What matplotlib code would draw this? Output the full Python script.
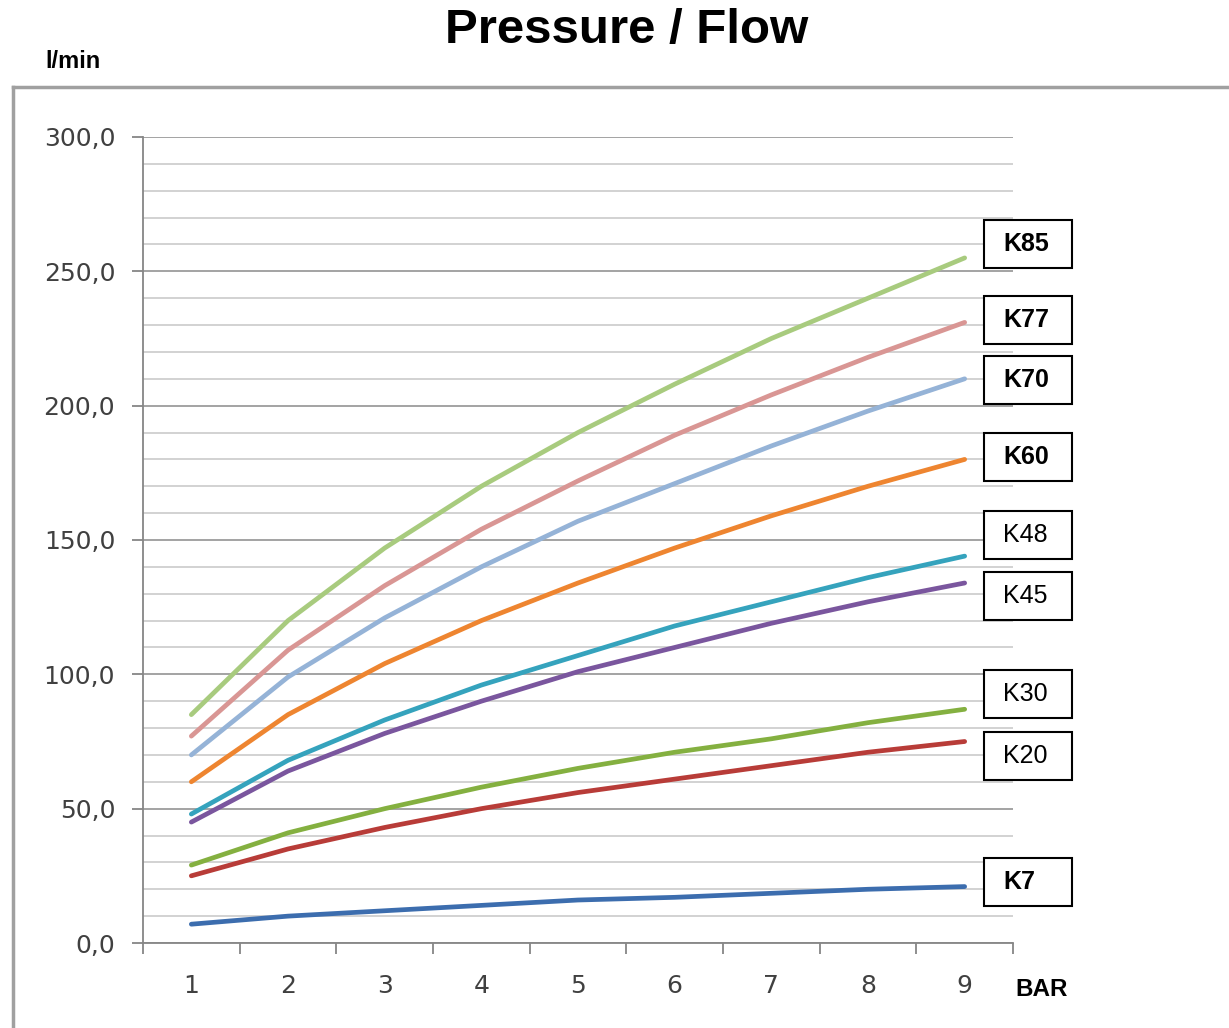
import matplotlib
matplotlib.use("Agg")
from matplotlib import pyplot as plt
from matplotlib.patches import Rectangle
from matplotlib.lines import Line2D

# Pressure in bar
pressure = [1, 2, 3, 4, 5, 6, 7, 8, 9]

# Flow in l/min for each nozzle
k85 = [85, 120, 147, 170, 190, 208, 225, 240, 255]
k77 = [77, 109, 133, 154, 172, 189, 204, 218, 231]
k70 = [70, 99, 121, 140, 157, 171, 185, 198, 210]
k60 = [60, 85, 104, 120, 134, 147, 159, 170, 180]
k48 = [48, 68, 83, 96, 107, 118, 127, 136, 144]
k45 = [45, 64, 78, 90, 101, 110, 119, 127, 134]
k30 = [29, 41, 50, 58, 65, 71, 76, 82, 87]
k20 = [25, 35, 43, 50, 56, 61, 66, 71, 75]
k7 = [7, 10, 12, 14, 16, 17, 18.5, 20, 21]

names = ['K85', 'K77', 'K70', 'K60', 'K48', 'K45', 'K30', 'K20', 'K7']
series = [k85, k77, k70, k60, k48, k45, k30, k20, k7]
colors = ['#A8CB7E', '#D99694', '#95B3D7', '#EE8530', '#35A3BD',
          '#7A569E', '#84B040', '#B83C38', '#3C6DAE']
bold = [True, True, True, True, False, False, False, False, True]
# label box centres (l/min)
label_y = [260, 232, 209.5, 181, 152, 129, 92.7, 69.6, 22.7]

fig = plt.figure(figsize=(12.29, 10.28), dpi=100)
ax = fig.add_axes([143/1229, 1-943/1028, 870/1229, 806/1028])

for ys, c in zip(series, colors):
    ax.plot(pressure, ys, c=c, lw=3.4, solid_capstyle='round', zorder=3)

ax.set_xlim(0.5, 9.5)
ax.set_ylim(0, 300)

# grid
for v in range(0, 301, 10):
    if v % 50 == 0:
        ax.axhline(v, color='#9C9C9C', lw=1.3, zorder=1)
    else:
        ax.axhline(v, color='#CFCFCF', lw=1.3, zorder=1)

ax.set_yticks(range(0, 301, 50))
ax.set_yticklabels(['%d,0' % v for v in range(0, 301, 50)])
ax.set_xticks([x + 0.5 for x in range(0, 10)])
ax.set_xticklabels([])
for x in pressure:
    ax.text(x, -0.053, str(x), transform=ax.get_xaxis_transform(),
            ha='center', va='center', fontsize=18, color='#404040')

for s in ['top', 'right']:
    ax.spines[s].set_visible(False)
for s in ['left', 'bottom']:
    ax.spines[s].set_color('#868686')
    ax.spines[s].set_linewidth(1.3)
ax.tick_params(axis='both', direction='out', length=8, width=1.3,
               color='#868686', labelcolor='#404040', labelsize=18)
ax.tick_params(axis='y', pad=12)

# series labels in boxes
box_h = 48 / 806 * 300
for name, yc, b in zip(names, label_y, bold):
    ax.add_patch(Rectangle(((984-143)/870, yc - box_h/2), 88/870, box_h,
                           transform=ax.get_yaxis_transform(), facecolor='white',
                           edgecolor='black', lw=1.5, clip_on=False, zorder=4))
    ax.text((1003-143)/870, yc, name, transform=ax.get_yaxis_transform(),
            ha='left', va='center', fontsize=18, family='Liberation Sans',
            fontweight='bold' if b else 'normal', zorder=5)

# chart frame
fig.add_artist(Line2D([13/1229, 1], [1-87/1028, 1-87/1028], color='#A0A0A0', lw=2.5))
fig.add_artist(Line2D([13/1229, 13/1229], [0, 1-87/1028], color='#A0A0A0', lw=2.5))

fig.text(627/1229, 1-31/1028, 'Pressure / Flow', ha='center', va='center',
         fontsize=35.5, fontweight='bold', family='Liberation Sans')
fig.text(45/1229, 1-62/1028, 'l/min', ha='left', va='center',
         fontsize=17, fontweight='bold', family='Liberation Sans')
fig.text(1015/1229, 1-990/1028, 'BAR', ha='left', va='center',
         fontsize=17.5, fontweight='bold', family='Liberation Sans')

fig.savefig('out.png', dpi=100)
